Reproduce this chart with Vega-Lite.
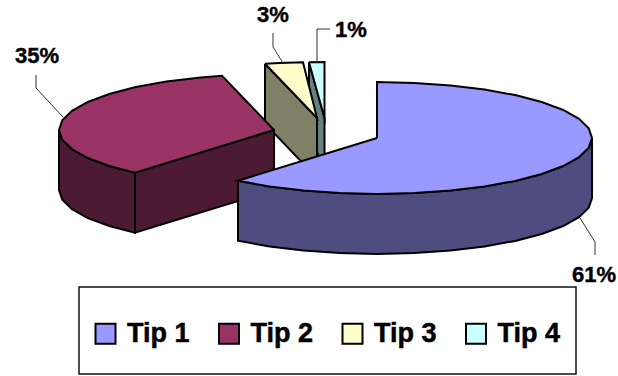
{
  "$schema": "https://vega.github.io/schema/vega-lite/v6.json",
  "width": 618,
  "height": 376,
  "padding": 0,
  "autosize": "none",
  "background": "white",
  "view": {"stroke": null},
  "layer": [
    {
      "data": {"values": [{"x0": 79, "x1": 576, "y0": 287, "y1": 374}]},
      "mark": {"type": "rect", "fill": "white", "stroke": "#111111", "strokeWidth": 1.5},
      "encoding": {
        "x": {"field": "x0", "type": "quantitative", "scale": {"domain": [0, 618], "nice": false, "zero": false}, "axis": null},
        "x2": {"field": "x1"},
        "y": {"field": "y0", "type": "quantitative", "scale": {"domain": [376, 0], "nice": false, "zero": false}, "axis": null},
        "y2": {"field": "y1"}
      }
    },
    {
      "data": {"values": [
        {"shape": "c1", "face": "Tip 4 side", "ord": 1, "x": 309, "y": 62.3},
        {"shape": "c1", "face": "Tip 4 side", "ord": 2, "x": 324.5, "y": 118},
        {"shape": "c1", "face": "Tip 4 side", "ord": 3, "x": 324.5, "y": 178},
        {"shape": "c1", "face": "Tip 4 side", "ord": 4, "x": 309, "y": 122.3},
        {"shape": "c1", "face": "Tip 4 side", "ord": 5, "x": 309, "y": 62.3},
        {"shape": "c2", "face": "Tip 4", "ord": 1, "x": 309, "y": 62.3},
        {"shape": "c2", "face": "Tip 4", "ord": 2, "x": 324.5, "y": 62},
        {"shape": "c2", "face": "Tip 4", "ord": 3, "x": 324.5, "y": 118},
        {"shape": "c2", "face": "Tip 4", "ord": 4, "x": 309, "y": 62.3},

        {"shape": "y1", "face": "Tip 3 side", "ord": 1, "x": 265, "y": 63.7},
        {"shape": "y1", "face": "Tip 3 side", "ord": 2, "x": 317, "y": 118},
        {"shape": "y1", "face": "Tip 3 side", "ord": 3, "x": 317, "y": 178},
        {"shape": "y1", "face": "Tip 3 side", "ord": 4, "x": 265, "y": 123.7},
        {"shape": "y1", "face": "Tip 3 side", "ord": 5, "x": 265, "y": 63.7},
        {"shape": "y2", "face": "Tip 3", "ord": 1, "x": 265, "y": 63.7},
        {"shape": "y2", "face": "Tip 3", "ord": 2, "x": 279.7, "y": 62.9},
        {"shape": "y2", "face": "Tip 3", "ord": 3, "x": 303, "y": 62.2},
        {"shape": "y2", "face": "Tip 3", "ord": 4, "x": 317, "y": 118},
        {"shape": "y2", "face": "Tip 3", "ord": 5, "x": 265, "y": 63.7},

        {"shape": "r1", "face": "Tip 2 side", "ord": 1, "x": 59, "y": 130},
        {"shape": "r1", "face": "Tip 2 side", "ord": 2, "x": 62.3, "y": 139.7},
        {"shape": "r1", "face": "Tip 2 side", "ord": 3, "x": 72, "y": 149.2},
        {"shape": "r1", "face": "Tip 2 side", "ord": 4, "x": 87.8, "y": 158},
        {"shape": "r1", "face": "Tip 2 side", "ord": 5, "x": 109.3, "y": 166},
        {"shape": "r1", "face": "Tip 2 side", "ord": 6, "x": 135, "y": 172.7},
        {"shape": "r1", "face": "Tip 2 side", "ord": 7, "x": 135, "y": 232.7},
        {"shape": "r1", "face": "Tip 2 side", "ord": 8, "x": 109.3, "y": 226},
        {"shape": "r1", "face": "Tip 2 side", "ord": 9, "x": 87.8, "y": 218},
        {"shape": "r1", "face": "Tip 2 side", "ord": 10, "x": 72, "y": 209.2},
        {"shape": "r1", "face": "Tip 2 side", "ord": 11, "x": 62.3, "y": 199.7},
        {"shape": "r1", "face": "Tip 2 side", "ord": 12, "x": 59, "y": 190},
        {"shape": "r1", "face": "Tip 2 side", "ord": 13, "x": 59, "y": 130},
        {"shape": "r2", "face": "Tip 2 side", "ord": 1, "x": 135, "y": 172.7},
        {"shape": "r2", "face": "Tip 2 side", "ord": 2, "x": 274, "y": 130},
        {"shape": "r2", "face": "Tip 2 side", "ord": 3, "x": 274, "y": 190},
        {"shape": "r2", "face": "Tip 2 side", "ord": 4, "x": 135, "y": 232.7},
        {"shape": "r2", "face": "Tip 2 side", "ord": 5, "x": 135, "y": 172.7},
        {"shape": "r3", "face": "Tip 2", "ord": 1, "x": 274, "y": 130},
        {"shape": "r3", "face": "Tip 2", "ord": 2, "x": 222, "y": 75.7},
        {"shape": "r3", "face": "Tip 2", "ord": 3, "x": 200.5, "y": 77.4},
        {"shape": "r3", "face": "Tip 2", "ord": 4, "x": 166.5, "y": 81.5},
        {"shape": "r3", "face": "Tip 2", "ord": 5, "x": 135.8, "y": 87.1},
        {"shape": "r3", "face": "Tip 2", "ord": 6, "x": 109.3, "y": 94},
        {"shape": "r3", "face": "Tip 2", "ord": 7, "x": 87.8, "y": 102},
        {"shape": "r3", "face": "Tip 2", "ord": 8, "x": 72, "y": 110.8},
        {"shape": "r3", "face": "Tip 2", "ord": 9, "x": 62.3, "y": 120.3},
        {"shape": "r3", "face": "Tip 2", "ord": 10, "x": 59, "y": 130},
        {"shape": "r3", "face": "Tip 2", "ord": 11, "x": 62.3, "y": 139.7},
        {"shape": "r3", "face": "Tip 2", "ord": 12, "x": 72, "y": 149.2},
        {"shape": "r3", "face": "Tip 2", "ord": 13, "x": 87.8, "y": 158},
        {"shape": "r3", "face": "Tip 2", "ord": 14, "x": 109.3, "y": 166},
        {"shape": "r3", "face": "Tip 2", "ord": 15, "x": 135, "y": 172.7},
        {"shape": "r3", "face": "Tip 2", "ord": 16, "x": 274, "y": 130},

        {"shape": "b1", "face": "Tip 1 side", "ord": 1, "x": 592, "y": 138},
        {"shape": "b1", "face": "Tip 1 side", "ord": 2, "x": 588.7, "y": 147.7},
        {"shape": "b1", "face": "Tip 1 side", "ord": 3, "x": 579, "y": 157.2},
        {"shape": "b1", "face": "Tip 1 side", "ord": 4, "x": 563.2, "y": 166},
        {"shape": "b1", "face": "Tip 1 side", "ord": 5, "x": 541.7, "y": 174},
        {"shape": "b1", "face": "Tip 1 side", "ord": 6, "x": 515.2, "y": 180.9},
        {"shape": "b1", "face": "Tip 1 side", "ord": 7, "x": 484.5, "y": 186.5},
        {"shape": "b1", "face": "Tip 1 side", "ord": 8, "x": 450.5, "y": 190.6},
        {"shape": "b1", "face": "Tip 1 side", "ord": 9, "x": 414.3, "y": 193.1},
        {"shape": "b1", "face": "Tip 1 side", "ord": 10, "x": 377, "y": 194},
        {"shape": "b1", "face": "Tip 1 side", "ord": 11, "x": 339.7, "y": 193.1},
        {"shape": "b1", "face": "Tip 1 side", "ord": 12, "x": 303.5, "y": 190.6},
        {"shape": "b1", "face": "Tip 1 side", "ord": 13, "x": 269.5, "y": 186.5},
        {"shape": "b1", "face": "Tip 1 side", "ord": 14, "x": 238, "y": 180.7},
        {"shape": "b1", "face": "Tip 1 side", "ord": 15, "x": 238, "y": 240.7},
        {"shape": "b1", "face": "Tip 1 side", "ord": 16, "x": 269.5, "y": 246.5},
        {"shape": "b1", "face": "Tip 1 side", "ord": 17, "x": 303.5, "y": 250.6},
        {"shape": "b1", "face": "Tip 1 side", "ord": 18, "x": 339.7, "y": 253.1},
        {"shape": "b1", "face": "Tip 1 side", "ord": 19, "x": 377, "y": 254},
        {"shape": "b1", "face": "Tip 1 side", "ord": 20, "x": 414.3, "y": 253.1},
        {"shape": "b1", "face": "Tip 1 side", "ord": 21, "x": 450.5, "y": 250.6},
        {"shape": "b1", "face": "Tip 1 side", "ord": 22, "x": 484.5, "y": 246.5},
        {"shape": "b1", "face": "Tip 1 side", "ord": 23, "x": 515.2, "y": 240.9},
        {"shape": "b1", "face": "Tip 1 side", "ord": 24, "x": 541.7, "y": 234},
        {"shape": "b1", "face": "Tip 1 side", "ord": 25, "x": 563.2, "y": 226},
        {"shape": "b1", "face": "Tip 1 side", "ord": 26, "x": 579, "y": 217.2},
        {"shape": "b1", "face": "Tip 1 side", "ord": 27, "x": 588.7, "y": 207.7},
        {"shape": "b1", "face": "Tip 1 side", "ord": 28, "x": 592, "y": 198},
        {"shape": "b1", "face": "Tip 1 side", "ord": 29, "x": 592, "y": 138},
        {"shape": "b2", "face": "Tip 1", "ord": 1, "x": 377, "y": 138},
        {"shape": "b2", "face": "Tip 1", "ord": 2, "x": 377, "y": 82},
        {"shape": "b2", "face": "Tip 1", "ord": 3, "x": 414.3, "y": 82.9},
        {"shape": "b2", "face": "Tip 1", "ord": 4, "x": 450.5, "y": 85.4},
        {"shape": "b2", "face": "Tip 1", "ord": 5, "x": 484.5, "y": 89.5},
        {"shape": "b2", "face": "Tip 1", "ord": 6, "x": 515.2, "y": 95.1},
        {"shape": "b2", "face": "Tip 1", "ord": 7, "x": 541.7, "y": 102},
        {"shape": "b2", "face": "Tip 1", "ord": 8, "x": 563.2, "y": 110},
        {"shape": "b2", "face": "Tip 1", "ord": 9, "x": 579, "y": 118.8},
        {"shape": "b2", "face": "Tip 1", "ord": 10, "x": 588.7, "y": 128.3},
        {"shape": "b2", "face": "Tip 1", "ord": 11, "x": 592, "y": 138},
        {"shape": "b2", "face": "Tip 1", "ord": 12, "x": 588.7, "y": 147.7},
        {"shape": "b2", "face": "Tip 1", "ord": 13, "x": 579, "y": 157.2},
        {"shape": "b2", "face": "Tip 1", "ord": 14, "x": 563.2, "y": 166},
        {"shape": "b2", "face": "Tip 1", "ord": 15, "x": 541.7, "y": 174},
        {"shape": "b2", "face": "Tip 1", "ord": 16, "x": 515.2, "y": 180.9},
        {"shape": "b2", "face": "Tip 1", "ord": 17, "x": 484.5, "y": 186.5},
        {"shape": "b2", "face": "Tip 1", "ord": 18, "x": 450.5, "y": 190.6},
        {"shape": "b2", "face": "Tip 1", "ord": 19, "x": 414.3, "y": 193.1},
        {"shape": "b2", "face": "Tip 1", "ord": 20, "x": 377, "y": 194},
        {"shape": "b2", "face": "Tip 1", "ord": 21, "x": 339.7, "y": 193.1},
        {"shape": "b2", "face": "Tip 1", "ord": 22, "x": 303.5, "y": 190.6},
        {"shape": "b2", "face": "Tip 1", "ord": 23, "x": 269.5, "y": 186.5},
        {"shape": "b2", "face": "Tip 1", "ord": 24, "x": 238, "y": 180.7},
        {"shape": "b2", "face": "Tip 1", "ord": 25, "x": 377, "y": 138}
      ]},
      "mark": {"type": "line", "strokeWidth": 2, "stroke": "#000000", "strokeJoin": "miter", "strokeMiterLimit": 10},
      "encoding": {
        "x": {"field": "x", "type": "quantitative", "scale": {"domain": [0, 618], "nice": false, "zero": false}, "axis": null},
        "y": {"field": "y", "type": "quantitative", "scale": {"domain": [376, 0], "nice": false, "zero": false}, "axis": null},
        "detail": {"field": "shape"},
        "order": {"field": "ord", "type": "quantitative"},
        "fill": {
          "field": "face",
          "type": "nominal",
          "sort": null,
          "scale": {
            "domain": ["Tip 1", "Tip 2", "Tip 3", "Tip 4", "Tip 1 side", "Tip 2 side", "Tip 3 side", "Tip 4 side"],
            "range": ["#9999FF", "#993366", "#FFFFCC", "#CCFFFF", "#4D4D80", "#4D1A33", "#808066", "#668080"]
          },
          "legend": {
            "values": ["Tip 1", "Tip 2", "Tip 3", "Tip 4"],
            "title": null,
            "orient": "none",
            "legendX": 92,
            "legendY": 320,
            "direction": "horizontal",
            "columns": 4,
            "columnPadding": 24.5,
            "symbolType": "square",
            "symbolSize": 400,
            "symbolStrokeColor": "#000000",
            "symbolStrokeWidth": 2,
            "labelFont": "Liberation Sans",
            "labelFontWeight": "bold",
            "labelFontSize": 27,
            "labelColor": "#000000",
            "labelOffset": 8,
            "labelLimit": 200,
            "padding": 0,
            "encode": {"labels": {"update": {"stroke": {"value": "#000000"}, "strokeWidth": {"value": 0.5}}}}
          }
        }
      }
    },
    {
      "data": {"values": [
        {"lead": "a", "ord": 1, "x": 36, "y": 75},
        {"lead": "a", "ord": 2, "x": 36, "y": 88},
        {"lead": "a", "ord": 3, "x": 63, "y": 117},
        {"lead": "b", "ord": 1, "x": 273, "y": 33},
        {"lead": "b", "ord": 2, "x": 273, "y": 47},
        {"lead": "b", "ord": 3, "x": 283, "y": 63},
        {"lead": "c", "ord": 1, "x": 330, "y": 29},
        {"lead": "c", "ord": 2, "x": 317, "y": 29},
        {"lead": "c", "ord": 3, "x": 317, "y": 63},
        {"lead": "d", "ord": 1, "x": 580, "y": 218},
        {"lead": "d", "ord": 2, "x": 595, "y": 242},
        {"lead": "d", "ord": 3, "x": 595, "y": 255}
      ]},
      "mark": {"type": "line", "stroke": "#333333", "strokeWidth": 1},
      "encoding": {
        "x": {"field": "x", "type": "quantitative", "scale": {"domain": [0, 618], "nice": false, "zero": false}, "axis": null},
        "y": {"field": "y", "type": "quantitative", "scale": {"domain": [376, 0], "nice": false, "zero": false}, "axis": null},
        "detail": {"field": "lead"},
        "order": {"field": "ord", "type": "quantitative"}
      }
    },
    {
      "data": {"values": [
        {"share": "61%", "x": 594, "y": 274.5},
        {"share": "35%", "x": 37, "y": 55.5},
        {"share": "3%", "x": 273, "y": 14.5},
        {"share": "1%", "x": 351, "y": 29.5}
      ]},
      "mark": {"type": "text", "font": "Liberation Sans", "fontWeight": "bold", "fontSize": 22, "color": "#000000", "stroke": "#000000", "strokeWidth": 0.4, "align": "center", "baseline": "middle"},
      "encoding": {
        "x": {"field": "x", "type": "quantitative", "scale": {"domain": [0, 618], "nice": false, "zero": false}, "axis": null},
        "y": {"field": "y", "type": "quantitative", "scale": {"domain": [376, 0], "nice": false, "zero": false}, "axis": null},
        "text": {"field": "share"}
      }
    }
  ]
}
